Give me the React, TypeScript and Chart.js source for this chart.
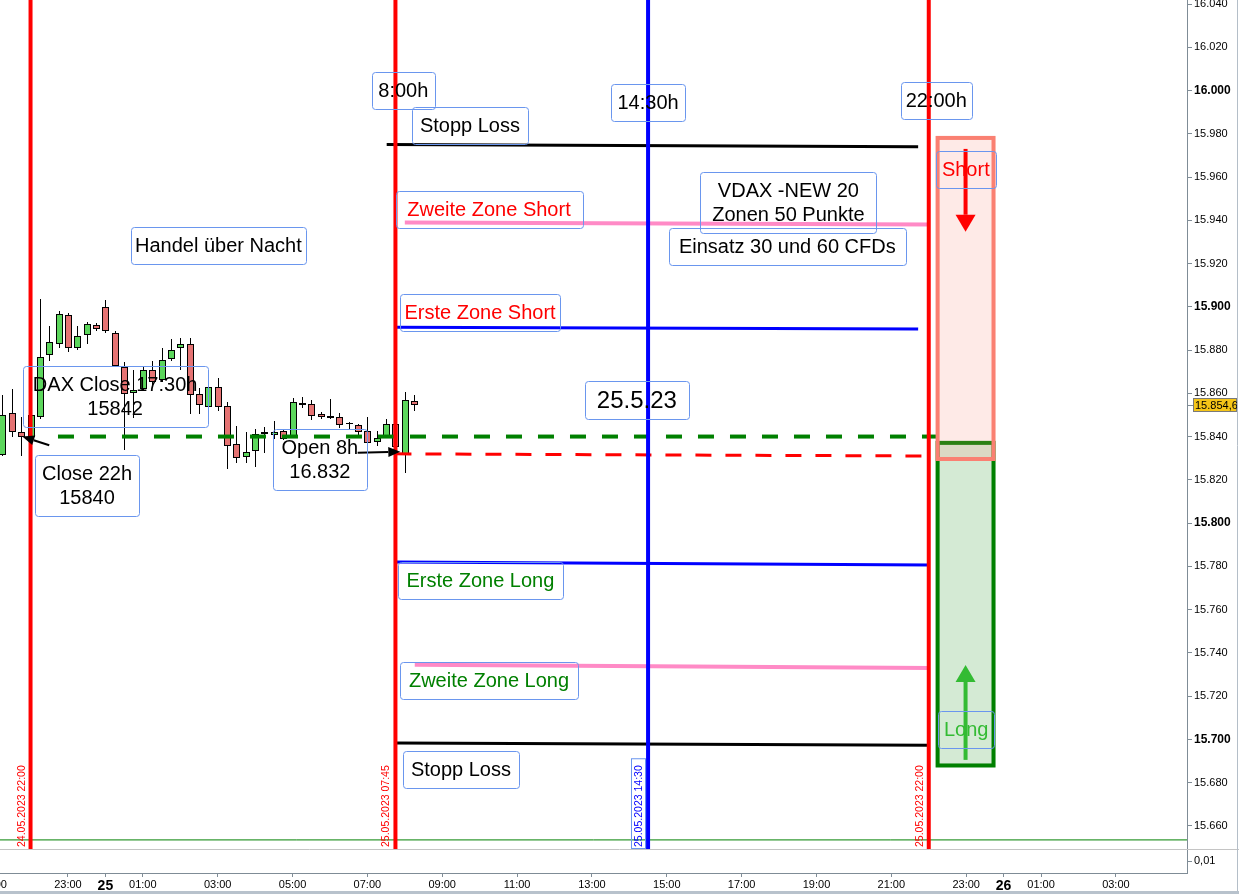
import React, { useEffect, useRef } from "react";
import { Chart, registerables } from "chart.js";

Chart.register(...registerables);

const FONT = 'Arial, "Liberation Sans", Helvetica, sans-serif';

// 15-minute DAX candles, 24.05.2023 21:15 until 25.05.2023 08:15
const candleTimes = [
  "24.05 21:15", "24.05 21:30", "24.05 21:45", "24.05 22:00", "24.05 22:15", "24.05 22:30",
  "24.05 22:45", "24.05 23:00", "24.05 23:15", "24.05 23:30", "24.05 23:45", "25.05 00:00",
  "25.05 00:15", "25.05 00:30", "25.05 00:45", "25.05 01:00", "25.05 01:15", "25.05 01:30",
  "25.05 01:45", "25.05 02:00", "25.05 02:15", "25.05 02:30", "25.05 02:45", "25.05 03:00",
  "25.05 03:15", "25.05 03:30", "25.05 03:45", "25.05 04:00", "25.05 04:15", "25.05 04:30",
  "25.05 04:45", "25.05 05:00", "25.05 05:15", "25.05 05:30", "25.05 05:45", "25.05 06:00",
  "25.05 06:15", "25.05 06:30", "25.05 06:45", "25.05 07:00", "25.05 07:15", "25.05 07:30",
  "25.05 07:45", "25.05 08:00", "25.05 08:15",
];
const opens = [
  15831.5, 15851, 15842, 15840, 15849, 15877.5, 15883, 15896, 15881, 15887, 15891.5, 15900,
  15888, 15872, 15860, 15862, 15871, 15866, 15876, 15881, 15883, 15859.5, 15853.5, 15863,
  15854, 15836.5, 15830.5, 15833.5, 15842, 15840.5, 15842.5, 15840, 15855.5, 15855, 15850.5,
  15848.5, 15849, 15846.2, 15845.5, 15842.5, 15837.5, 15840, 15846, 15832, 15856.5,
];
const highs = [
  15859, 15862, 15849, 15850.5, 15903.5, 15891, 15898, 15897, 15891, 15893, 15892.5, 15903,
  15889, 15874.5, 15871, 15872, 15875, 15881, 15885, 15885.5, 15885.5, 15862.5, 15864, 15867,
  15856, 15845, 15842, 15843.5, 15844.5, 15847, 15843, 15858, 15858.5, 15857, 15851.5,
  15857.5, 15851, 15846.5, 15846, 15849, 15842.5, 15848, 15849, 15860.5, 15859,
];
const lows = [
  15831, 15840, 15831, 15839, 15848, 15875, 15881, 15879, 15880, 15883, 15889, 15888,
  15872, 15834, 15848.5, 15861, 15864, 15865, 15875, 15871, 15850.5, 15850.5, 15849, 15852,
  15825, 15828, 15828, 15826, 15832.5, 15839, 15838.5, 15839.5, 15853, 15847.5, 15848,
  15848, 15844, 15843, 15840, 15836, 15835.5, 15839.5, 15832, 15823, 15852,
];
const closes = [
  15850, 15842, 15840, 15850, 15877, 15883.5, 15896.5, 15881, 15886.5, 15892, 15889.5, 15889,
  15872.5, 15859.5, 15861.5, 15871, 15865, 15875.5, 15880, 15883, 15859, 15854.5, 15863, 15853.5,
  15835.5, 15830, 15833, 15841, 15841, 15842, 15839, 15856, 15854.5, 15849.5, 15849,
  15849.5, 15845.5, 15846, 15842, 15837, 15839.5, 15846, 15835, 15857, 15854.6,
];

// axis ticks: prices and hours counted from 25.05 00:00
const priceTicks = [
  15660, 15680, 15700, 15720, 15740, 15760, 15780, 15800, 15820, 15840, 15860,
  15880, 15900, 15920, 15940, 15960, 15980, 16000, 16020, 16040,
];
const hourTicks = [-3, -1, 0, 1, 3, 5, 7, 9, 11, 13, 15, 17, 19, 21, 23, 24, 25, 27];
const dayTicks: Record<number, string> = { 0: "25", 24: "26" };

// session markers
const sessionTimes = ["24.05 22:00", "25.05 07:45", "25.05 14:30", "25.05 22:00"];
const sessionKinds = ["close", "open", "us", "close"];

// trading levels: start / end time and price at both ends
const levelNames = [
  "stopShort", "zone2Short", "zone1Short", "close22", "open8", "zone1Long", "zone2Long", "stopLong",
];
const levelFrom = [
  "25.05 07:31", "25.05 08:00", "25.05 07:45", "24.05 22:44",
  "25.05 07:45", "25.05 07:45", "25.05 08:16", "25.05 07:45",
];
const levelTo = [
  "25.05 21:43", "25.05 22:02", "25.05 21:43", "25.05 22:18",
  "25.05 22:02", "25.05 22:02", "25.05 22:02", "25.05 22:02",
];
const levelStart = [15975, 15939, 15890.5, 15840, 15832, 15782, 15734.5, 15698.3];
const levelEnd = [15974, 15938, 15889.7, 15840, 15831, 15780.6, 15733, 15697.3];

// indicator line in the lower part of the price panel
const indicatorValue = 15653.5;

// target zones after 22:00
const zoneFrom = "25.05 22:11";
const zoneTo = "25.05 23:47";
const shortZone = [15979, 15828.7];
const longZone = [15838, 15687];
const shortArrow = [15973, 15934.7];
const longArrow = [15690.5, 15734.4];

// text notes: hour, price, text
const noteHours = [
  7.96, 14.5, 22.2, 9.74, 10.25, 18.25, 18.22, 3.02, 10.01, 0.26, 14.2, -0.49, 5.73,
  10.02, 10.25, 9.5, 22.99, 23.0,
];
const notePrices = [
  15999.8, 15994.5, 15995.2, 15983.8, 15945.2, 15948, 15927.9, 15928.3, 15897.4, 15858.3,
  15856.9, 15817.2, 15829.2, 15773.3, 15727.1, 15686.1, 15963.7, 15704.4,
];
const noteTexts = [
  "8:00h", "14:30h", "22:00h", "Stopp Loss", "Zweite Zone Short", "VDAX -NEW 20\nZonen 50 Punkte",
  "Einsatz 30 und 60 CFDs", "Handel über Nacht", "Erste Zone Short", "DAX Close 17:30h\n15842",
  "25.5.23", "Close 22h\n15840", "Open 8h\n16.832", "Erste Zone Long", "Zweite Zone Long",
  "Stopp Loss", "Short", "Long",
];
const noteTone = [
  "text", "text", "text", "text", "short", "text", "text", "text", "short", "text",
  "text", "text", "text", "long", "long", "text", "short", "longLight",
];
const notePadX = [6.5, 6.5, 5, 8, 12, 12, 10, 4, 4.5, 10, 12, 7, 8.5, 8.5, 9, 8, 6, 6];

// pointer arrows: [tail hour, tail price, tip hour, tip price]
const pointers = [
  [-1.5, 15836, -2.22, 15840],
  [6.74, 15832.5, 7.88, 15833],
];

// visible range
const X_MIN = -2.816;
const X_MAX = 28.9;
const Y_MIN = 15638.2;
const Y_MAX = 16041.85;
const PANEL_FLOOR = 15649.3;

const COLORS = {
  red: "#ff0000",
  blue: "#0000ff",
  pink: "#ff8ac6",
  black: "#000000",
  green: "#008000",
  lightGreen: "#33bb33",
  salmon: "#fa8072",
  candleUp: "#5cd65c",
  candleDown: "#e57373",
  noteBorder: "#6a96ee",
  axis: "#7f8c96",
};

const levelStyle: Record<string, { color: string; width: number; dash?: number[] }> = {
  stopShort: { color: COLORS.black, width: 3 },
  zone2Short: { color: COLORS.pink, width: 4 },
  zone1Short: { color: COLORS.blue, width: 3 },
  close22: { color: COLORS.green, width: 4, dash: [16, 16] },
  open8: { color: COLORS.red, width: 3, dash: [16, 14] },
  zone1Long: { color: COLORS.blue, width: 3 },
  zone2Long: { color: COLORS.pink, width: 4 },
  stopLong: { color: COLORS.black, width: 3 },
};
const sessionColor: Record<string, string> = { close: COLORS.red, open: COLORS.red, us: COLORS.blue };
const toneColor: Record<string, string> = {
  text: "#000000",
  short: COLORS.red,
  long: COLORS.green,
  longLight: COLORS.lightGreen,
};

function hoursOf(stamp: string): number {
  const [date, time] = stamp.split(" ");
  const day = parseInt(date.split(".")[0], 10);
  const [hh, mm] = time.split(":").map(Number);
  return (day - 25) * 24 + hh + mm / 60;
}

function priceText(v: number): string {
  const whole = Math.floor(v);
  return `${Math.floor(whole / 1000)}.${String(whole % 1000).padStart(3, "0")}`;
}

function drawArrow(
  ctx: CanvasRenderingContext2D, x1: number, y1: number, x2: number, y2: number,
  color: string, width: number, headLen: number, headW: number,
) {
  const ang = Math.atan2(y2 - y1, x2 - x1);
  const bx = x2 - headLen * Math.cos(ang);
  const by = y2 - headLen * Math.sin(ang);
  ctx.strokeStyle = color;
  ctx.lineWidth = width;
  ctx.beginPath();
  ctx.moveTo(x1, y1);
  ctx.lineTo(bx, by);
  ctx.stroke();
  ctx.fillStyle = color;
  ctx.beginPath();
  ctx.moveTo(x2, y2);
  ctx.lineTo(bx + (headW / 2) * Math.sin(ang), by - (headW / 2) * Math.cos(ang));
  ctx.lineTo(bx - (headW / 2) * Math.sin(ang), by + (headW / 2) * Math.cos(ang));
  ctx.closePath();
  ctx.fill();
}

const candlePlugin = {
  id: "candles",
  beforeDatasetsDraw(chart: any) {
    const { ctx, chartArea, scales } = chart;
    const x = scales.x;
    const y = scales.y;
    ctx.save();
    ctx.beginPath();
    ctx.rect(chartArea.left, chartArea.top, chartArea.right - chartArea.left, chartArea.bottom - chartArea.top);
    ctx.clip();
    ctx.strokeStyle = "#000";
    ctx.lineWidth = 1;
    candleTimes.forEach((t, i) => {
      const cx = Math.round(x.getPixelForValue(hoursOf(t)));
      const yo = y.getPixelForValue(opens[i]);
      const yc = y.getPixelForValue(closes[i]);
      const yh = y.getPixelForValue(highs[i]);
      const yl = y.getPixelForValue(lows[i]);
      ctx.beginPath();
      ctx.moveTo(cx + 0.5, Math.round(yh));
      ctx.lineTo(cx + 0.5, Math.round(yl));
      ctx.stroke();
      const top = Math.round(Math.min(yo, yc));
      const bot = Math.round(Math.max(yo, yc));
      if (bot - top < 2) {
        ctx.beginPath();
        ctx.moveTo(cx - 3, top + 0.5);
        ctx.lineTo(cx + 4, top + 0.5);
        ctx.stroke();
        return;
      }
      ctx.fillStyle = closes[i] >= opens[i] ? COLORS.candleUp : COLORS.candleDown;
      ctx.fillRect(cx - 3, top, 7, bot - top);
      ctx.strokeRect(cx - 2.5, top + 0.5, 6, bot - top - 1);
    });
    ctx.restore();
  },
};

const overlayPlugin = {
  id: "overlay",
  afterDatasetsDraw(chart: any) {
    const { ctx, scales } = chart;
    const x = scales.x;
    const y = scales.y;
    const px = (h: number) => x.getPixelForValue(h);
    const py = (p: number) => y.getPixelForValue(p);
    ctx.save();

    // target zones
    const zx1 = px(hoursOf(zoneFrom));
    const zx2 = px(hoursOf(zoneTo));
    const zone = (vals: number[], fill: string, stroke: string) => {
      const t = py(vals[0]);
      const b = py(vals[1]);
      ctx.fillStyle = fill;
      ctx.fillRect(zx1, t, zx2 - zx1, b - t);
      ctx.strokeStyle = stroke;
      ctx.lineWidth = 4;
      ctx.strokeRect(zx1 + 2, t + 2, zx2 - zx1 - 4, b - t - 4);
    };
    zone(longZone, "rgba(0,128,0,0.17)", COLORS.green);
    zone(shortZone, "rgba(250,128,114,0.17)", COLORS.salmon);

    // session date tags
    ctx.font = `10.5px ${FONT}`;
    sessionTimes.forEach((s, i) => {
      const lx = Math.round(px(hoursOf(s))) - 9;
      const [d, t] = s.split(" ");
      const text = `${d}.2023 ${t}`;
      const color = sessionColor[sessionKinds[i]];
      const w = ctx.measureText(text).width;
      const yb = py(PANEL_FLOOR) - 2;
      if (sessionKinds[i] === "us") {
        ctx.strokeStyle = COLORS.noteBorder;
        ctx.lineWidth = 1;
        ctx.strokeRect(lx - 7.5, yb - w - 6.5, 14, w + 8);
      }
      ctx.save();
      ctx.translate(lx, yb);
      ctx.rotate(-Math.PI / 2);
      ctx.fillStyle = color;
      ctx.textAlign = "left";
      ctx.textBaseline = "middle";
      ctx.fillText(text, 0, 0);
      ctx.restore();
    });

    // zone arrows
    const ax = (zx1 + zx2) / 2;
    drawArrow(ctx, ax, py(shortArrow[0]), ax, py(shortArrow[1]), COLORS.red, 4, 17, 20);
    drawArrow(ctx, ax, py(longArrow[0]), ax, py(longArrow[1]), COLORS.lightGreen, 4, 17, 20);

    // pointers
    pointers.forEach((p) => {
      drawArrow(ctx, px(p[0]), py(p[1]), px(p[2]), py(p[3]), "#000", 2, 12, 10);
    });

    // notes
    noteTexts.forEach((text, i) => {
      const size = text === "25.5.23" ? 24 : 20;
      const padY = text === "25.5.23" ? 7 : 8.5;
      const cx = px(noteHours[i]);
      const cy = py(notePrices[i]);
      ctx.font = `${size}px ${FONT}`;
      const lines = text.split("\n");
      const tw = Math.max(...lines.map((l) => ctx.measureText(l).width));
      const w = Math.round(tw + 2 * notePadX[i]);
      const h = Math.round((lines.length - 1) * 24 + size + 2 * padY);
      const left = Math.round(cx - w / 2) + 0.5;
      const top = Math.round(cy - h / 2) + 0.5;
      ctx.strokeStyle = COLORS.noteBorder;
      ctx.lineWidth = 1;
      ctx.beginPath();
      if ((ctx as any).roundRect) (ctx as any).roundRect(left, top, w, h, 3);
      else ctx.rect(left, top, w, h);
      ctx.stroke();
      ctx.fillStyle = toneColor[noteTone[i]];
      ctx.textAlign = "center";
      ctx.textBaseline = "middle";
      lines.forEach((l, k) => {
        ctx.fillText(l, cx, cy - (lines.length - 1) * 12 + k * 24 + 1);
      });
    });
    ctx.restore();
  },
  afterDraw(chart: any) {
    const { ctx, scales, width, height, chartArea } = chart;
    const y = scales.y;
    ctx.save();
    // panel separator and lower pane
    const sepY = Math.round(y.getPixelForValue(PANEL_FLOOR)) + 0.5;
    ctx.strokeStyle = "#c4c4c4";
    ctx.lineWidth = 1;
    ctx.beginPath();
    ctx.moveTo(0, sepY);
    ctx.lineTo(width, sepY);
    ctx.stroke();
    const paneY = (sepY + chartArea.bottom) / 2;
    ctx.strokeStyle = COLORS.axis;
    ctx.beginPath();
    ctx.moveTo(chartArea.right, Math.round(paneY) + 0.5);
    ctx.lineTo(chartArea.right + 5, Math.round(paneY) + 0.5);
    ctx.stroke();
    ctx.fillStyle = "#000";
    ctx.font = `11px ${FONT}`;
    ctx.textAlign = "left";
    ctx.textBaseline = "middle";
    ctx.fillText("0,01", chartArea.right + 7, paneY);

    // last price tag
    const last = closes[closes.length - 1];
    const ty = Math.round(y.getPixelForValue(last));
    const label = `${priceText(last)},${Math.round((last % 1) * 10)}`;
    ctx.fillStyle = "#f5c518";
    ctx.fillRect(chartArea.right + 6, ty - 7, 44, 14);
    ctx.strokeStyle = "#7a7a7a";
    ctx.strokeRect(chartArea.right + 6.5, ty - 6.5, 43, 13);
    ctx.strokeStyle = COLORS.axis;
    ctx.beginPath();
    ctx.moveTo(chartArea.right, ty + 0.5);
    ctx.lineTo(chartArea.right + 6, ty + 0.5);
    ctx.stroke();
    ctx.fillStyle = "#000";
    ctx.fillText(label, chartArea.right + 8, ty + 0.5);

    // frame
    ctx.strokeStyle = "#b4bec8";
    ctx.beginPath();
    ctx.moveTo(width - 1.5, 0);
    ctx.lineTo(width - 1.5, height - 3);
    ctx.stroke();
    ctx.fillStyle = "#b8c2cc";
    ctx.fillRect(0, height - 3, width, 3);
    ctx.restore();
  },
};

export default function App() {
  const ref = useRef<HTMLCanvasElement>(null);

  useEffect(() => {
    document.body.style.margin = "0";
    const canvas = ref.current;
    if (!canvas) return;

    const datasets: any[] = [];
    sessionTimes.forEach((s, i) => {
      const h = hoursOf(s);
      datasets.push({
        data: [{ x: h, y: PANEL_FLOOR }, { x: h, y: Y_MAX + 2 }],
        borderColor: sessionColor[sessionKinds[i]],
        borderWidth: 4,
        pointRadius: 0,
        fill: false,
      });
    });
    levelNames.forEach((name, i) => {
      const st = levelStyle[name];
      datasets.push({
        data: [
          { x: hoursOf(levelFrom[i]), y: levelStart[i] },
          { x: hoursOf(levelTo[i]), y: levelEnd[i] },
        ],
        borderColor: st.color,
        borderWidth: st.width,
        borderDash: st.dash || [],
        borderCapStyle: "butt",
        pointRadius: 0,
        fill: false,
      });
    });
    datasets.push({
      data: [{ x: X_MIN, y: indicatorValue }, { x: X_MAX, y: indicatorValue }],
      borderColor: COLORS.green,
      borderWidth: 1,
      pointRadius: 0,
      fill: false,
    });

    const chart = new Chart(canvas, {
      type: "line",
      data: { datasets },
      options: {
        animation: false,
        responsive: false,
        maintainAspectRatio: false,
        layout: { padding: 0 },
        events: [],
        plugins: { legend: { display: false }, tooltip: { enabled: false } },
        scales: {
          x: {
            type: "linear",
            position: "bottom",
            min: X_MIN,
            max: X_MAX,
            afterBuildTicks: (scale: any) => {
              scale.ticks = hourTicks.map((v) => ({ value: v }));
            },
            afterFit: (scale: any) => {
              scale.height = 21;
              scale.paddingLeft = 0;
              scale.paddingRight = 0;
            },
            grid: { drawOnChartArea: false, drawTicks: true, tickLength: 4, color: COLORS.axis },
            border: { display: true, color: COLORS.axis, width: 1 },
            ticks: {
              autoSkip: false,
              maxRotation: 0,
              minRotation: 0,
              padding: 1,
              color: "#000",
              font: (c: any) =>
                c.tick && dayTicks[c.tick.value] !== undefined
                  ? { family: FONT, size: 14, weight: "bold" }
                  : { family: FONT, size: 11 },
              callback: (v: any) => {
                const n = Number(v);
                if (dayTicks[n] !== undefined) return dayTicks[n];
                const hh = ((n % 24) + 24) % 24;
                return `${String(hh).padStart(2, "0")}:00`;
              },
            },
          },
          y: {
            type: "linear",
            position: "right",
            min: Y_MIN,
            max: Y_MAX,
            afterBuildTicks: (scale: any) => {
              scale.ticks = priceTicks.map((v) => ({ value: v }));
            },
            afterFit: (scale: any) => {
              scale.width = 52;
              scale.paddingTop = 0;
              scale.paddingBottom = 0;
            },
            grid: { drawOnChartArea: false, drawTicks: true, tickLength: 5, color: COLORS.axis },
            border: { display: true, color: COLORS.axis, width: 1 },
            ticks: {
              autoSkip: false,
              padding: 2,
              color: "#000",
              font: (c: any) =>
                c.tick && c.tick.value % 100 === 0
                  ? { family: FONT, size: 12, weight: "bold" }
                  : { family: FONT, size: 11 },
              callback: (v: any) => priceText(Number(v)),
            },
          },
        },
      } as any,
      plugins: [candlePlugin, overlayPlugin],
    });

    return () => chart.destroy();
  }, []);

  return (
    <div style={{ width: 1239, height: 894 }}>
      <canvas ref={ref} width={1239} height={894} style={{ display: "block" }} />
    </div>
  );
}
